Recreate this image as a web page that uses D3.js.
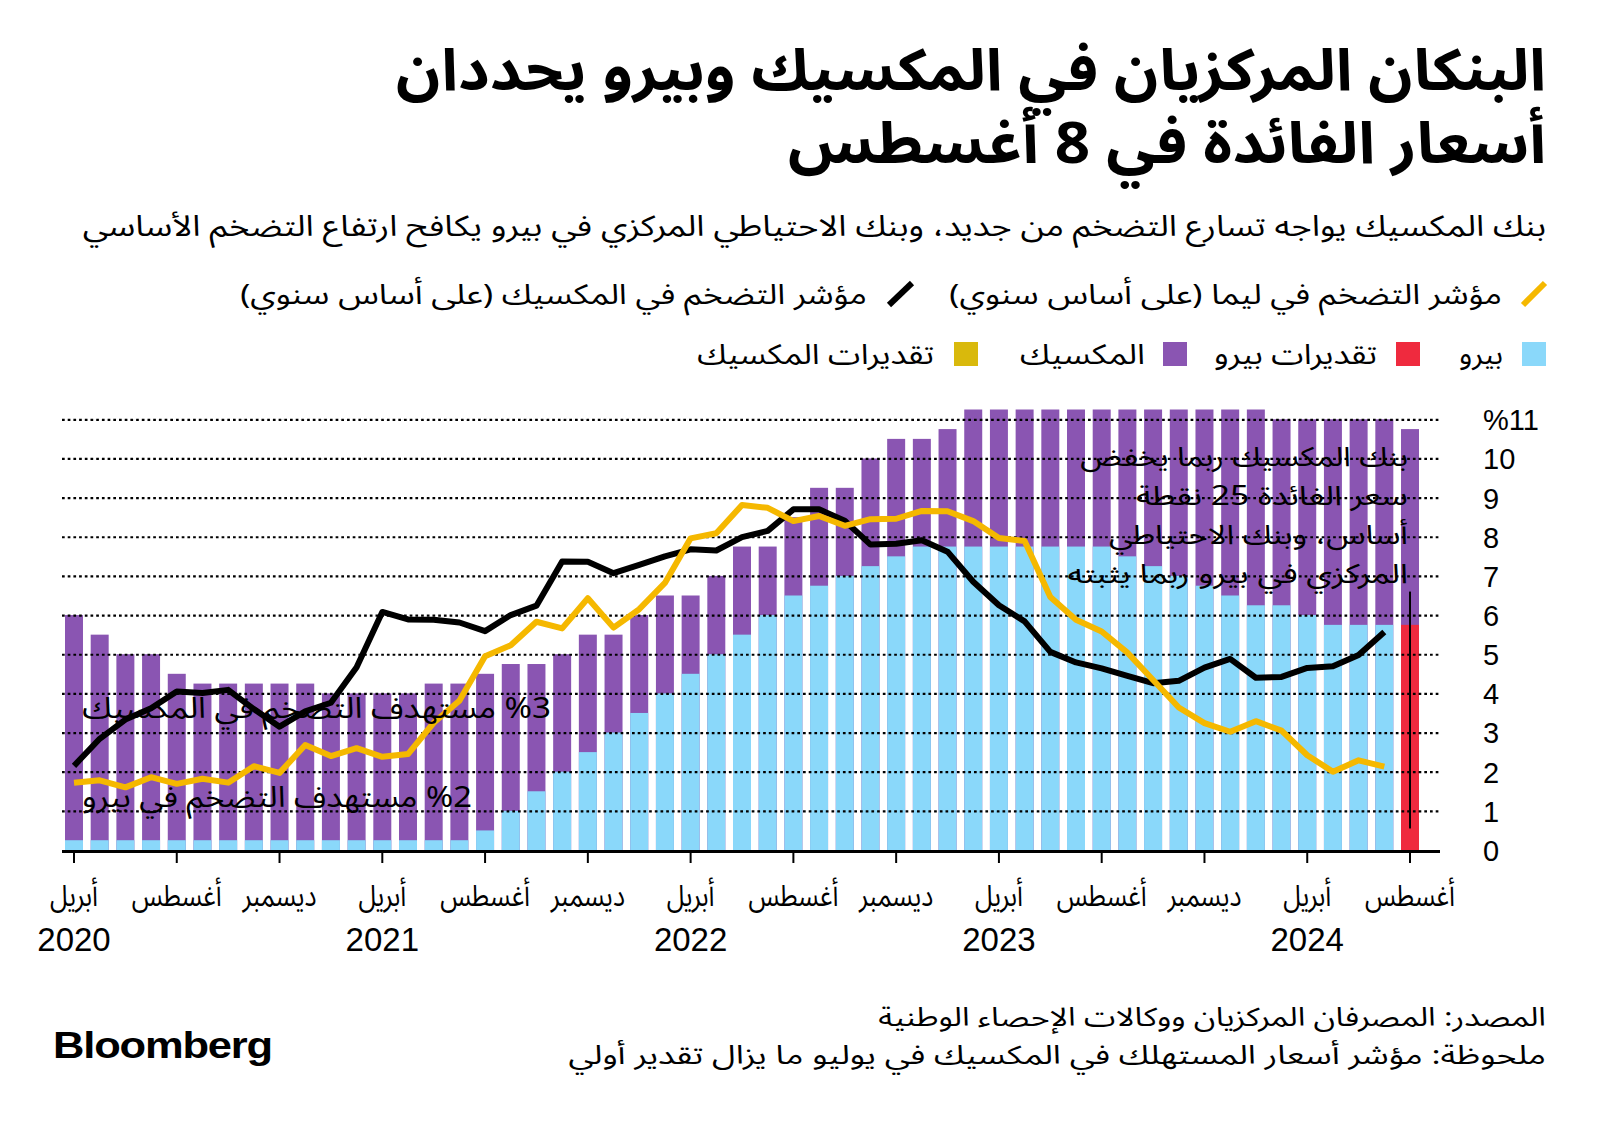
<!DOCTYPE html>
<html lang="ar">
<head>
<meta charset="utf-8">
<script src="https://cdn.jsdelivr.net/npm/d3@7"></script>
<style>
  html, body { margin: 0; padding: 0; background: #fff; }
  svg { display: block; }
  .ar { font-family: "Noto Sans Arabic", "Noto Kufi Arabic", "DejaVu Sans", sans-serif; }
  .lat { font-family: "Liberation Sans", Arial, Helvetica, sans-serif; }
</style>
</head>
<body>
<svg id="chart" width="1600" height="1128"></svg>
<script>
// ---------------- DATA ----------------
const months = [
  "2020-04","2020-05","2020-06","2020-07","2020-08","2020-09","2020-10","2020-11","2020-12",
  "2021-01","2021-02","2021-03","2021-04","2021-05","2021-06","2021-07","2021-08","2021-09","2021-10","2021-11","2021-12",
  "2022-01","2022-02","2022-03","2022-04","2022-05","2022-06","2022-07","2022-08","2022-09","2022-10","2022-11","2022-12",
  "2023-01","2023-02","2023-03","2023-04","2023-05","2023-06","2023-07","2023-08","2023-09","2023-10","2023-11","2023-12",
  "2024-01","2024-02","2024-03","2024-04","2024-05","2024-06","2024-07","2024-08"
];
const estimateMonths = ["2024-08"];

// Mexico policy rate (%)
const mexicoRate = [
  6.0, 5.5, 5.0, 5.0, 4.5, 4.25, 4.25, 4.25, 4.25,
  4.25, 4.0, 4.0, 4.0, 4.0, 4.25, 4.25, 4.5, 4.75, 4.75, 5.0, 5.5,
  5.5, 6.0, 6.5, 6.5, 7.0, 7.75, 7.75, 8.5, 9.25, 9.25, 10.0, 10.5,
  10.5, 10.75, 11.25, 11.25, 11.25, 11.25, 11.25, 11.25, 11.25, 11.25, 11.25, 11.25,
  11.25, 11.25, 11.0, 11.0, 11.0, 11.0, 11.0, 10.75
];
// Peru policy rate (%)
const peruRate = [
  0.25, 0.25, 0.25, 0.25, 0.25, 0.25, 0.25, 0.25, 0.25,
  0.25, 0.25, 0.25, 0.25, 0.25, 0.25, 0.25, 0.5, 1.0, 1.5, 2.0, 2.5,
  3.0, 3.5, 4.0, 4.5, 5.0, 5.5, 6.0, 6.5, 6.75, 7.0, 7.25, 7.5,
  7.75, 7.75, 7.75, 7.75, 7.75, 7.75, 7.75, 7.75, 7.5, 7.25, 7.0, 6.75,
  6.5, 6.25, 6.25, 6.0, 5.75, 5.75, 5.75, 5.75
];
// Mexico CPI YoY (%) Apr 2020 - Jul 2024
const mexicoCPI = [
  2.15, 2.84, 3.33, 3.62, 4.05, 4.01, 4.09, 3.6, 3.15,
  3.54, 3.76, 4.67, 6.08, 5.89, 5.88, 5.81, 5.59, 6.00, 6.24, 7.37, 7.36,
  7.07, 7.28, 7.50, 7.68, 7.65, 7.99, 8.15, 8.70, 8.70, 8.41, 7.80, 7.82,
  7.91, 7.62, 6.85, 6.25, 5.84, 5.06, 4.79, 4.64, 4.45, 4.26, 4.32, 4.66,
  4.88, 4.40, 4.42, 4.65, 4.69, 4.98, 5.57
];
// Lima CPI YoY (%) Apr 2020 - Jul 2024
const limaCPI = [
  1.72, 1.78, 1.60, 1.86, 1.69, 1.82, 1.72, 2.14, 1.97,
  2.68, 2.40, 2.60, 2.38, 2.45, 3.25, 3.81, 4.95, 5.23, 5.83, 5.66, 6.43,
  5.68, 6.15, 6.82, 7.96, 8.09, 8.81, 8.74, 8.40, 8.53, 8.28, 8.45, 8.46,
  8.66, 8.65, 8.40, 7.97, 7.89, 6.46, 5.88, 5.58, 5.04, 4.34, 3.64, 3.24,
  3.02, 3.29, 3.05, 2.42, 2.00, 2.29, 2.13
];

const tickMonths = ["2020-04","2020-08","2020-12","2021-04","2021-08","2021-12","2022-04","2022-08","2022-12","2023-04","2023-08","2023-12","2024-04","2024-08"];
const tickMonthNames = ["أبريل","أغسطس","ديسمبر","أبريل","أغسطس","ديسمبر","أبريل","أغسطس","ديسمبر","أبريل","أغسطس","ديسمبر","أبريل","أغسطس"];
const yearTickMonths = ["2020-04","2021-04","2022-04","2023-04","2024-04"];
const yearNames = ["2020","2021","2022","2023","2024"];
const yTicks = [0,1,2,3,4,5,6,7,8,9,10,11];

const titleLines = ["البنكان المركزيان في المكسيك وبيرو يحددان", "أسعار الفائدة في 8 أغسطس"];
const subtitle = "بنك المكسيك يواجه تسارع التضخم من جديد، وبنك الاحتياطي المركزي في بيرو يكافح ارتفاع التضخم الأساسي";
const legendLines = ["مؤشر التضخم في ليما (على أساس سنوي)", "مؤشر التضخم في المكسيك (على أساس سنوي)"];
const legendBars = ["بيرو", "تقديرات بيرو", "المكسيك", "تقديرات المكسيك"];
const noteRight = ["بنك المكسيك ربما يخفض", "سعر الفائدة 25 نقطة", "أساس، وبنك الاحتياطي", "المركزي في بيرو ربما يثبته"];
const noteMx = "%3 مستهدف التضخم في المكسيك";
const notePe = "%2 مستهدف التضخم في بيرو";
const footer = ["المصدر: المصرفان المركزيان ووكالات الإحصاء الوطنية", "ملحوظة: مؤشر أسعار المستهلك في المكسيك في يوليو ما يزال تقدير أولي"];

// ---------------- STYLE ----------------
const C = {
  purple: "#8a55b2", blue: "#8ad8fa", red: "#ef2a3e", gold: "#d9b90c",
  yellow: "#f5b800", black: "#000"
};

const svg = d3.select("#chart");
svg.append("rect").attr("width", 1600).attr("height", 1128).attr("fill", "#fff");

const x = d3.scaleBand().domain(months).range([65, 1419]).paddingInner(0.3).paddingOuter(0);
const y = d3.scaleLinear().domain([0, 11]).range([850, 419.3]);
const bw = x.bandwidth();
const cx = m => x(m) + bw / 2;

function fit(sel, L, R) {
  const bb = sel.node().getBBox();
  const s = (R - L) / bb.width;
  sel.attr("transform", `translate(${L},0) scale(${s},1) translate(${-bb.x},0)`);
}
function arText(parent, txt, xR, yB, size, weight) {
  return parent.append("text").attr("class", "ar")
    .attr("direction", "rtl").attr("text-anchor", "start")
    .attr("x", xR).attr("y", yB)
    .attr("font-size", size).attr("font-weight", weight || 400)
    .attr("fill", "#000").text(txt);
}

// ---------------- TITLE / SUBTITLE ----------------
fit(arText(svg, titleLines[0], 1546, 90, 58, 700), 396, 1546);
fit(arText(svg, titleLines[1], 1546, 163, 58, 700), 788, 1546);
fit(arText(svg, subtitle, 1546, 236, 29, 400), 82, 1546);

// ---------------- LEGEND ----------------
const lg = svg.append("g");
lg.append("line").attr("x1", 1523).attr("y1", 305).attr("x2", 1545).attr("y2", 283)
  .attr("stroke", C.yellow).attr("stroke-width", 6);
fit(arText(lg, legendLines[0], 1502, 304, 28), 949, 1502);
lg.append("line").attr("x1", 889).attr("y1", 305).attr("x2", 912).attr("y2", 283)
  .attr("stroke", C.black).attr("stroke-width", 6);
fit(arText(lg, legendLines[1], 867, 304, 28), 240, 867);

const sqs = [
  {c: C.blue, x0: 1522, tR: 1503, tL: 1459},
  {c: C.red, x0: 1396, tR: 1377, tL: 1214},
  {c: C.purple, x0: 1163, tR: 1145, tL: 1020},
  {c: C.gold, x0: 954, tR: 934, tL: 697}
];
sqs.forEach((s, i) => {
  lg.append("rect").attr("x", s.x0).attr("y", 342).attr("width", 24).attr("height", 24).attr("fill", s.c);
  fit(arText(lg, legendBars[i], s.tR, 364, 28), s.tL, s.tR);
});

// ---------------- BARS ----------------
const bars = svg.append("g");
bars.selectAll("rect.mx").data(months).join("rect").attr("class", "mx")
  .attr("x", d => x(d)).attr("width", bw)
  .attr("y", (d, i) => y(mexicoRate[i])).attr("height", (d, i) => y(0) - y(mexicoRate[i]))
  .attr("fill", C.purple);
bars.selectAll("rect.pe").data(months).join("rect").attr("class", "pe")
  .attr("x", d => x(d)).attr("width", bw)
  .attr("y", (d, i) => y(peruRate[i])).attr("height", (d, i) => y(0) - y(peruRate[i]))
  .attr("fill", d => estimateMonths.includes(d) ? C.red : C.blue);

// ---------------- GRID ----------------
const grid = svg.append("g").attr("transform", "translate(62,0)")
  .call(d3.axisRight(y).tickValues(yTicks.filter(v => v > 0)).tickSize(1378).tickFormat(""));
grid.select(".domain").remove();
grid.selectAll(".tick line").attr("stroke", "#000").attr("stroke-width", 2.2).attr("stroke-dasharray", "2.7,3");

// y labels
const ya = svg.append("g").attr("transform", "translate(1483,0)")
  .call(d3.axisRight(y).tickValues(yTicks).tickSize(0).tickPadding(0)
    .tickFormat(d => d === 11 ? "%11" : String(d)));
ya.select(".domain").remove();
ya.selectAll("text").attr("class", "lat").attr("font-size", 29).attr("fill", "#000")
  .attr("font-family", "Liberation Sans, Arial, sans-serif").attr("dy", "0.36em");

// ---------------- LINES ----------------
const lineGen = d3.line().x((d, i) => cx(months[i])).y(d => y(d)).curve(d3.curveLinear);
svg.append("path").datum(mexicoCPI).attr("d", lineGen)
  .attr("fill", "none").attr("stroke", C.black).attr("stroke-width", 6)
  .attr("stroke-linejoin", "round").attr("stroke-linecap", "butt");
svg.append("path").datum(limaCPI).attr("d", lineGen)
  .attr("fill", "none").attr("stroke", C.yellow).attr("stroke-width", 6)
  .attr("stroke-linejoin", "round").attr("stroke-linecap", "butt");

// ---------------- X AXIS ----------------
svg.append("line").attr("x1", 62).attr("x2", 1440).attr("y1", y(0) + 1.5).attr("y2", y(0) + 1.5)
  .attr("stroke", "#000").attr("stroke-width", 3);
const xa = svg.append("g").attr("transform", `translate(0,${y(0) + 1})`)
  .call(d3.axisBottom(x).tickValues(tickMonths).tickSize(12).tickPadding(0)
    .tickFormat((d, i) => tickMonthNames[i]));
xa.select(".domain").remove();
xa.selectAll(".tick line").attr("stroke", "#000").attr("stroke-width", 2);
xa.selectAll(".tick text").attr("class", "ar").attr("font-size", 30).attr("fill", "#000")
  .attr("font-family", null).attr("dy", null).attr("y", 55).attr("direction", "rtl")
  .attr("transform", "scale(0.84,1)");

svg.append("g").selectAll("text").data(yearTickMonths).join("text")
  .attr("class", "lat").attr("x", d => cx(d)).attr("y", 951)
  .attr("text-anchor", "middle").attr("font-size", 33).attr("fill", "#000")
  .text((d, i) => yearNames[i]);

// ---------------- ANNOTATIONS ----------------
const lastM = estimateMonths[0];
svg.append("line").attr("x1", cx(lastM)).attr("x2", cx(lastM))
  .attr("y1", y(6.6)).attr("y2", y(0.55)).attr("stroke", "#000").attr("stroke-width", 2);

const noteBase = [466, 505, 544, 583];
const noteLeft = [1080, 1136, 1109, 1067];
noteRight.forEach((t, i) => fit(arText(svg, t, 1408, noteBase[i], 27), noteLeft[i], 1408));
fit(arText(svg, noteMx, 551, 718, 29), 82, 551);
fit(arText(svg, notePe, 472, 807, 29), 82, 472);

// ---------------- FOOTER ----------------
fit(arText(svg, footer[0], 1546, 1026, 26), 878, 1546);
fit(arText(svg, footer[1], 1546, 1064, 26), 568, 1546);
const logo = svg.append("text").attr("class", "lat").attr("x", 53).attr("y", 1058)
  .attr("font-size", 37).attr("font-weight", 700).attr("fill", "#000")
  .attr("letter-spacing", -1).text("Bloomberg");
fit(logo, 53, 272);
</script>
</body>
</html>
